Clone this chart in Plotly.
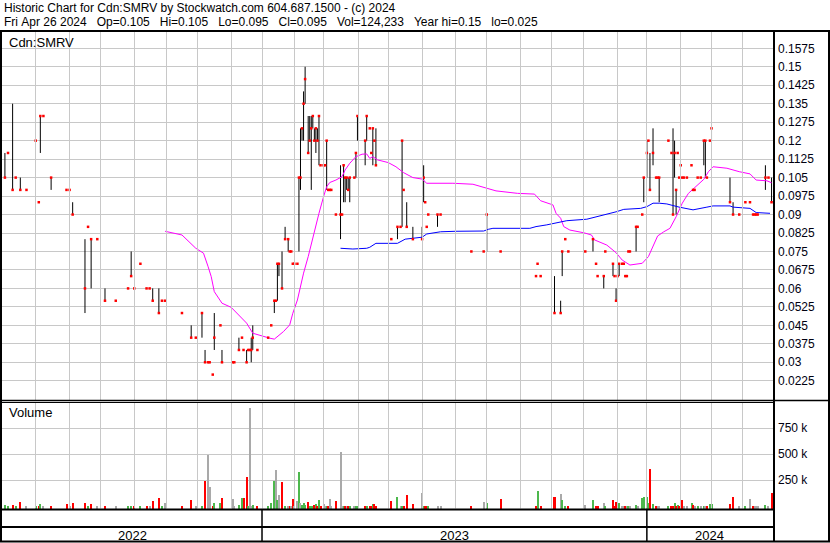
import math
import pandas as pd
import plotly.graph_objects as go

# ---------------- data ----------------
# trading sessions counted back from the last session (0 = Fri Apr 26 2024)
session_ago = [498, 496, 493, 491, 488, 484, 478, 476, 475, 473, 468, 458, 456, 454, 446, 444, 442, 438,
               433, 426, 418, 416, 414, 410, 406, 404, 402, 398, 396, 394, 383, 377, 374, 370, 368, 366,
               365, 363, 362, 358, 357, 350, 349, 346, 344, 343, 341, 340, 339, 338, 337, 334, 327, 325,
               323, 322, 321, 320, 318, 316, 314, 313, 312, 311, 310, 308, 307, 306, 305, 304, 303, 301,
               300, 299, 298, 297, 296, 295, 294, 293, 291, 290, 289, 288, 287, 286, 283, 280, 279, 278,
               277, 276, 275, 274, 271, 270, 269, 264, 263, 261, 260, 259, 258, 257, 247, 243, 241, 240,
               239, 237, 233, 227, 226, 225, 224, 223, 217, 215, 195, 187, 185, 176, 153, 152, 150, 141,
               137, 136, 134, 132, 121, 116, 114, 113, 109, 108, 103, 102, 101, 100, 99, 97, 96, 95,
               94, 93, 92, 88, 87, 84, 83, 81, 80, 79, 77, 75, 74, 73, 67, 65, 64, 63,
               62, 61, 60, 59, 58, 57, 55, 52, 51, 50, 48, 46, 44, 43, 42, 40, 39, 27,
               25, 21, 17, 14, 12, 11, 10, 9, 4, 2, 0]
high = [0.115, 0.115, 0.135, 0.105, 0.105, 0.10, 0.12, 0.095, 0.13, 0.13, 0.105, 0.10, 0.10, 0.095, 0.08, 0.085, 0.08, 0.08,
        0.06, 0.055, 0.06, 0.075, 0.06, 0.07, 0.06, 0.06, 0.06, 0.06, 0.055, 0.055, 0.05, 0.045, 0.04, 0.05, 0.035, 0.03,
        0.03, 0.025, 0.05, 0.045, 0.035, 0.03, 0.03, 0.04, 0.04, 0.035, 0.035, 0.035, 0.035, 0.04, 0.045, 0.035, 0.04, 0.045,
        0.055, 0.055, 0.07, 0.07, 0.075, 0.085, 0.08, 0.075, 0.075, 0.07, 0.07, 0.07, 0.105, 0.125, 0.125, 0.14, 0.15, 0.13,
        0.13, 0.13, 0.13, 0.125, 0.125, 0.125, 0.13, 0.11, 0.11, 0.11, 0.12, 0.10, 0.10, 0.10, 0.09, 0.11, 0.09, 0.11,
        0.105, 0.105, 0.105, 0.105, 0.105, 0.115, 0.13, 0.12, 0.13, 0.125, 0.115, 0.125, 0.12, 0.125, 0.08, 0.085, 0.085, 0.12,
        0.10, 0.095, 0.085, 0.085, 0.11, 0.095, 0.085, 0.09, 0.09, 0.09, 0.075, 0.075, 0.09, 0.075, 0.065, 0.07, 0.065, 0.065,
        0.055, 0.075, 0.08, 0.075, 0.075, 0.08, 0.07, 0.065, 0.065, 0.075, 0.07, 0.065, 0.06, 0.065, 0.07, 0.07, 0.07, 0.065,
        0.065, 0.075, 0.075, 0.085, 0.085, 0.09, 0.105, 0.12, 0.12, 0.115, 0.125, 0.105, 0.105, 0.105, 0.12, 0.115, 0.125, 0.12,
        0.10, 0.115, 0.105, 0.11, 0.105, 0.105, 0.105, 0.11, 0.10, 0.10, 0.105, 0.105, 0.12, 0.12, 0.105, 0.12, 0.125, 0.105,
        0.095, 0.09, 0.095, 0.095, 0.09, 0.09, 0.09, 0.09, 0.11, 0.105, 0.105]
low = [0.105, 0.115, 0.10, 0.105, 0.10, 0.10, 0.12, 0.095, 0.115, 0.13, 0.10, 0.10, 0.10, 0.09, 0.05, 0.085, 0.06, 0.08,
       0.055, 0.055, 0.06, 0.065, 0.06, 0.07, 0.06, 0.06, 0.055, 0.05, 0.055, 0.055, 0.05, 0.04, 0.04, 0.04, 0.03, 0.03,
       0.03, 0.025, 0.035, 0.045, 0.03, 0.03, 0.03, 0.035, 0.04, 0.035, 0.03, 0.035, 0.035, 0.03, 0.035, 0.035, 0.04, 0.045,
       0.05, 0.055, 0.055, 0.065, 0.06, 0.08, 0.075, 0.075, 0.075, 0.07, 0.07, 0.07, 0.075, 0.10, 0.12, 0.12, 0.135, 0.115,
       0.12, 0.10, 0.125, 0.12, 0.115, 0.12, 0.11, 0.11, 0.11, 0.11, 0.10, 0.10, 0.10, 0.10, 0.09, 0.08, 0.09, 0.095,
       0.095, 0.10, 0.10, 0.095, 0.105, 0.105, 0.12, 0.11, 0.12, 0.125, 0.115, 0.11, 0.12, 0.11, 0.08, 0.08, 0.085, 0.085,
       0.10, 0.085, 0.08, 0.08, 0.095, 0.095, 0.085, 0.09, 0.085, 0.09, 0.075, 0.075, 0.075, 0.075, 0.065, 0.07, 0.065, 0.05,
       0.05, 0.065, 0.08, 0.075, 0.075, 0.075, 0.07, 0.065, 0.06, 0.075, 0.065, 0.065, 0.055, 0.065, 0.065, 0.07, 0.07, 0.065,
       0.065, 0.075, 0.075, 0.075, 0.085, 0.09, 0.095, 0.105, 0.12, 0.10, 0.11, 0.105, 0.105, 0.095, 0.12, 0.115, 0.09, 0.105,
       0.09, 0.115, 0.105, 0.11, 0.105, 0.105, 0.105, 0.11, 0.10, 0.10, 0.105, 0.105, 0.11, 0.105, 0.105, 0.12, 0.12, 0.095,
       0.09, 0.09, 0.095, 0.095, 0.09, 0.09, 0.09, 0.09, 0.10, 0.105, 0.095]
close = [0.105, 0.115, 0.10, 0.105, 0.10, 0.10, 0.12, 0.095, 0.13, 0.13, 0.105, 0.10, 0.10, 0.09, 0.06, 0.085, 0.08, 0.08,
         0.055, 0.055, 0.06, 0.065, 0.06, 0.07, 0.06, 0.06, 0.055, 0.05, 0.055, 0.055, 0.05, 0.04, 0.04, 0.05, 0.03, 0.03,
         0.03, 0.025, 0.04, 0.045, 0.03, 0.03, 0.03, 0.035, 0.04, 0.035, 0.03, 0.035, 0.035, 0.035, 0.04, 0.035, 0.04, 0.045,
         0.055, 0.055, 0.07, 0.07, 0.06, 0.08, 0.08, 0.075, 0.075, 0.07, 0.07, 0.07, 0.105, 0.105, 0.125, 0.135, 0.145, 0.115,
         0.12, 0.125, 0.13, 0.12, 0.125, 0.12, 0.13, 0.11, 0.11, 0.11, 0.12, 0.10, 0.10, 0.10, 0.09, 0.09, 0.09, 0.11,
         0.105, 0.105, 0.10, 0.105, 0.105, 0.115, 0.13, 0.12, 0.13, 0.125, 0.115, 0.125, 0.12, 0.11, 0.08, 0.085, 0.085, 0.12,
         0.10, 0.085, 0.08, 0.08, 0.105, 0.095, 0.085, 0.09, 0.09, 0.09, 0.075, 0.075, 0.09, 0.075, 0.065, 0.07, 0.065, 0.05,
         0.05, 0.075, 0.08, 0.075, 0.075, 0.08, 0.07, 0.065, 0.065, 0.075, 0.07, 0.065, 0.055, 0.065, 0.07, 0.07, 0.07, 0.065,
         0.065, 0.075, 0.075, 0.085, 0.085, 0.09, 0.105, 0.115, 0.12, 0.10, 0.115, 0.105, 0.105, 0.105, 0.12, 0.115, 0.09, 0.115,
         0.10, 0.115, 0.105, 0.11, 0.105, 0.105, 0.105, 0.11, 0.10, 0.10, 0.105, 0.105, 0.12, 0.12, 0.105, 0.12, 0.125, 0.095,
         0.09, 0.09, 0.095, 0.095, 0.09, 0.09, 0.09, 0.09, 0.105, 0.105, 0.095]
volume = [12000, 3000, 12000, 3000, 41000, 3000, 3000, 3000, 22000, 3000, 3000, 22000, 3000, 32000, 32000, 3000, 22000, 3000,
          5000, 3000, 3000, 5000, 3000, 3000, 3000, 3000, 51000, 80000, 3000, 32000, 3000, 61000, 3000, 3000, 243000, 493000,
          183000, 5000, 32000, 32000, 80000, 70000, 3000, 12000, 80000, 80000, 282000, 3000, 945000, 3000, 12000, 3000, 3000, 32000,
          243000, 349000, 60000, 109000, 234000, 3000, 3000, 3000, 3000, 70000, 3000, 50000, 330000, 32000, 10000, 32000, 12000, 40000,
          5000, 5000, 5000, 10000, 20000, 5000, 60000, 3000, 20000, 5000, 5000, 5000, 70000, 3000, 50000, 522000, 5000, 3000,
          3000, 5000, 3000, 3000, 3000, 5000, 3000, 3000, 3000, 3000, 3000, 20000, 20000, 3000, 51000, 89000, 3000, 3000,
          3000, 109000, 22000, 128000, 3000, 3000, 3000, 3000, 5000, 5000, 3000, 41000, 32000, 70000, 3000, 147000, 3000, 89000,
          118000, 61000, 3000, 3000, 12000, 61000, 3000, 3000, 32000, 3000, 61000, 3000, 41000, 3000, 32000, 5000, 3000, 3000,
          3000, 3000, 3000, 12000, 3000, 80000, 89000, 89000, 32000, 359000, 22000, 3000, 3000, 3000, 3000, 3000, 3000, 32000,
          3000, 12000, 3000, 3000, 61000, 5000, 3000, 32000, 12000, 3000, 3000, 3000, 3000, 3000, 3000, 22000, 22000, 22000,
          89000, 3000, 5000, 70000, 3000, 3000, 3000, 3000, 12000, 3000, 124233]

# moving averages (magenta = shorter, blue = longer)
ma_pink_ago = [394, 383, 374, 369, 366, 364, 362, 357, 351, 345, 341, 337, 330, 326, 323, 317, 313, 311, 308, 304,
               301, 298, 294, 291, 289, 287, 283, 279, 277, 274, 270, 266, 263, 261, 259, 256, 249, 244, 239, 233,
               227, 224, 207, 194, 185, 179, 165, 154, 150, 146, 142, 140, 137, 135, 131, 122, 117, 115, 107, 101,
               97, 92, 84, 80, 77, 74, 70, 66, 62, 58, 54, 49, 44, 41, 38, 29, 21, 14, 10, 3, 0]
ma_pink = [0.0832, 0.0817, 0.0763, 0.0743, 0.0688, 0.0648, 0.0587, 0.0540, 0.0523, 0.0485, 0.0459, 0.0418, 0.0404,
           0.0398, 0.0394, 0.0425, 0.0452, 0.0499, 0.0553, 0.0662, 0.0729, 0.0810, 0.0905, 0.0973, 0.1013, 0.1030,
           0.1040, 0.1054, 0.1081, 0.1108, 0.1135, 0.1145, 0.1146, 0.1128, 0.1135, 0.1122, 0.1111, 0.1094, 0.1070,
           0.1050, 0.1044, 0.1027, 0.1027, 0.1023, 0.1007, 0.0996, 0.0986, 0.0983, 0.0956, 0.0948, 0.0939, 0.0905,
           0.0885, 0.0851, 0.0837, 0.0826, 0.0817, 0.0797, 0.0776, 0.0745, 0.0715, 0.0695, 0.0702, 0.0729, 0.0769,
           0.0813, 0.0830, 0.0844, 0.0891, 0.0946, 0.0986, 0.1013, 0.1043, 0.1074, 0.1094, 0.1088, 0.1074, 0.1065,
           0.1040, 0.1037, 0.1029]
ma_blue_ago = [280, 276, 272, 263, 261, 257, 243, 238, 233, 227, 224, 215, 205, 187, 184, 181, 157, 153, 146, 133,
               120, 111, 101, 96, 85, 81, 77, 73, 68, 60, 51, 42, 38, 27, 25, 14, 10, 1]
ma_blue = [0.0763, 0.0760, 0.0760, 0.0763, 0.0767, 0.0783, 0.0783, 0.0800, 0.0804, 0.0808, 0.0821, 0.0830, 0.0832,
           0.0833, 0.0840, 0.0844, 0.0844, 0.0851, 0.0858, 0.0875, 0.0881, 0.0894, 0.0911, 0.0921, 0.0925, 0.0932,
           0.0946, 0.0946, 0.0943, 0.0930, 0.0919, 0.0930, 0.0935, 0.0935, 0.0930, 0.0925, 0.0908, 0.0905]

price_ticks = [0.1575, 0.15, 0.1425, 0.135, 0.1275, 0.12, 0.1125, 0.105, 0.0975, 0.09, 0.0825, 0.075, 0.0675,
               0.06, 0.0525, 0.045, 0.0375, 0.03, 0.0225]
price_tick_labels = ["0.1575", "0.15", "0.1425", "0.135", "0.1275", "0.12", "0.1125", "0.105", "0.0975", "0.09",
                     "0.0825", "0.075", "0.0675", "0.06", "0.0525", "0.045", "0.0375", "0.03", "0.0225"]
vol_ticks = [250000, 500000, 750000]
vol_tick_labels = ["250 k", "500 k", "750 k"]
years = ["2022", "2023", "2024"]

last_session = "2024-04-26"
market_holidays = ["2022-04-15", "2022-05-23", "2022-07-01", "2022-08-01", "2022-09-05", "2022-10-10",
                   "2022-12-26", "2022-12-27", "2023-01-02", "2023-02-20", "2023-04-07", "2023-05-22",
                   "2023-07-03", "2023-08-07", "2023-09-04", "2023-10-09", "2023-12-25", "2023-12-26",
                   "2024-01-01", "2024-02-19", "2024-03-29"]

title1 = "Historic Chart for Cdn:SMRV by Stockwatch.com 604.687.1500 - (c) 2024"
title2 = ("Fri Apr 26 2024   Op=0.105   Hi=0.105   Lo=0.095   Cl=0.095   Vol=124,233   "
          "Year hi=0.15   lo=0.025")

# ---------------- geometry / style ----------------
W, H = 830, 543
FONT = "Liberation Sans, Arial, sans-serif"
GRID = "#c8c8c8"
X_RANGE = [-499.9, 0.94]
PRICE_RANGE = [0.014688, 0.164525]
VOL_RANGE = [-25960, 993000]
VOL_PAD = 25960
PLOT_L, PLOT_W = 2, 771


def px(xp):
    return xp / W


def py(yp):
    return 1 - yp / H


def snap(xv):
    """nudge a data x so its line falls on a pixel centre (crisp 1px line)"""
    pix = PLOT_L + (xv - X_RANGE[0]) / (X_RANGE[1] - X_RANGE[0]) * PLOT_W
    pix = math.floor(pix) + 0.5
    return X_RANGE[0] + (pix - PLOT_L) / PLOT_W * (X_RANGE[1] - X_RANGE[0])


# trading calendar -> month gridlines and year boundaries
days = pd.bdate_range("2022-04-01", last_session)
days = days[~days.isin(pd.to_datetime(market_holidays))]
n = len(days)
grid_x, year_starts, date_of = [], [], {}
prev = None
for i, d in enumerate(days):
    ago = n - 1 - i
    date_of[ago] = d.strftime("%Y-%m-%d")
    if prev is not None and d.month != prev.month:
        if -ago > X_RANGE[0] + 20:
            grid_x.append(float(-ago))
        if d.year != prev.year:
            year_starts.append(float(-ago))
    prev = d

x = [-a for a in session_ago]
dates = [date_of.get(a, "") for a in session_ago]

# high-low segments
seg_x, seg_y = [], []
for xi, h, l in zip(x, high, low):
    if h > l:
        seg_x += [xi, xi, None]
        seg_y += [l, h, None]

# volume colour by change of close
vcol = []
for i, c in enumerate(close):
    p = close[i - 1] if i > 0 else None
    if p is None or c > p:
        vcol.append("#4db84d")
    elif c < p:
        vcol.append("#ff0000")
    else:
        vcol.append("#a9a9a9")

fig = go.Figure()
fig.add_trace(go.Scatter(x=seg_x, y=seg_y, mode="lines", line=dict(color="black", width=1),
                         hoverinfo="skip", xaxis="x", yaxis="y"))
fig.add_trace(go.Scatter(x=[-a for a in ma_pink_ago], y=ma_pink, mode="lines",
                         line=dict(color="#ff00ff", width=1), xaxis="x", yaxis="y", name="MA short"))
fig.add_trace(go.Scatter(x=[-a for a in ma_blue_ago], y=ma_blue, mode="lines",
                         line=dict(color="#0000ff", width=1), xaxis="x", yaxis="y", name="MA long"))
fig.add_trace(go.Scatter(x=x, y=close, mode="markers", text=dates,
                         marker=dict(symbol="square", size=2.5, color="#ff0000", line=dict(width=0)),
                         xaxis="x", yaxis="y", name="Close"))
fig.add_trace(go.Bar(x=x, y=[v + VOL_PAD for v in volume], base=-VOL_PAD, width=1.3, text=dates,
                     marker=dict(color=vcol, line=dict(width=0)), xaxis="x2", yaxis="y2", name="Volume",
                     textposition="none"))

xcommon = dict(range=X_RANGE, domain=[px(PLOT_L), px(PLOT_L + PLOT_W)], showticklabels=False, ticks="",
               showgrid=False, zeroline=False, showline=False)
fig.update_layout(
    width=W, height=H, margin=dict(l=0, r=0, t=0, b=0),
    paper_bgcolor="white", plot_bgcolor="rgba(0,0,0,0)", showlegend=False, bargap=0,
    font=dict(family=FONT, size=12, color="black"),
    xaxis=dict(anchor="y", **xcommon),
    xaxis2=dict(anchor="y2", **xcommon),
    yaxis=dict(domain=[py(400), py(31)], range=PRICE_RANGE, side="right", anchor="x",
               tickmode="array", tickvals=price_ticks, ticktext=price_tick_labels,
               ticks="", ticklabelstandoff=4, showgrid=True, gridcolor=GRID, gridwidth=1,
               zeroline=False, showline=False, tickfont=dict(family=FONT, size=12, color="#000010")),
    yaxis2=dict(domain=[py(509), py(403)], range=VOL_RANGE, side="right", anchor="x2",
                tickmode="array", tickvals=vol_ticks, ticktext=vol_tick_labels,
                ticks="", ticklabelstandoff=4, showgrid=True, gridcolor=GRID, gridwidth=1,
                zeroline=False, showline=False, tickfont=dict(family=FONT, size=12, color="#000010")),
)

# month gridlines in both panels
for gx in grid_x:
    sx = snap(gx)
    for (ya, yb) in ((32, 400), (403, 508.5)):
        fig.add_shape(type="line", xref="x", yref="paper", x0=sx, x1=sx, y0=py(yb), y1=py(ya),
                      layer="above", line=dict(color=GRID, width=1))


# frame
def hline(y, x0, x1, w):
    fig.add_shape(type="line", xref="paper", yref="paper", x0=px(x0), x1=px(x1), y0=py(y), y1=py(y),
                  line=dict(color="black", width=w))


def vline(xx, y0, y1, w):
    fig.add_shape(type="line", xref="paper", yref="paper", x0=px(xx), x1=px(xx), y0=py(y0), y1=py(y1),
                  line=dict(color="black", width=w))


hline(31, 0, 830, 2)
hline(400.5, 0, 830, 1.5)
hline(402.5, 0, 773, 1)
hline(509.5, 0, 773, 2)
hline(527, 0, 773, 2)
hline(541.5, 0, 830, 2)
vline(1, 31, 542, 2)
vline(774, 31, 542, 2)
vline(829, 31, 542, 2)
for ys in year_starts:
    fig.add_shape(type="line", xref="x", yref="paper", x0=ys, x1=ys, y0=py(541), y1=py(510),
                  line=dict(color="black", width=1.5))

# year labels centred in their spans
bounds = [X_RANGE[0]] + year_starts + [X_RANGE[1]]
for i, y in enumerate(years):
    fig.add_annotation(x=(bounds[i] + bounds[i + 1]) / 2, y=py(535), xref="x", yref="paper",
                       text=y, showarrow=False, xanchor="center", yanchor="middle",
                       font=dict(family=FONT, size=13, color="black"))

# texts
fig.add_annotation(x=px(2), y=py(8), xref="paper", yref="paper", text=title1, showarrow=False,
                   xanchor="left", yanchor="middle", font=dict(family=FONT, size=12, color="black"))
fig.add_annotation(x=px(2), y=py(22), xref="paper", yref="paper", text=title2.replace(" ", "\u00a0"),
                   showarrow=False, xanchor="left", yanchor="middle",
                   font=dict(family=FONT, size=12, color="black"))
fig.add_annotation(x=px(7), y=py(42), xref="paper", yref="paper", text="Cdn:SMRV", showarrow=False,
                   xanchor="left", yanchor="middle", font=dict(family=FONT, size=13, color="black"))
fig.add_annotation(x=px(7), y=py(413), xref="paper", yref="paper", text="Volume", showarrow=False,
                   xanchor="left", yanchor="middle", font=dict(family=FONT, size=13, color="black"))

fig.write_html("out.html", config={"displayModeBar": False, "staticPlot": True},
               post_script="document.body.style.margin='0';document.body.style.overflow='hidden';")
